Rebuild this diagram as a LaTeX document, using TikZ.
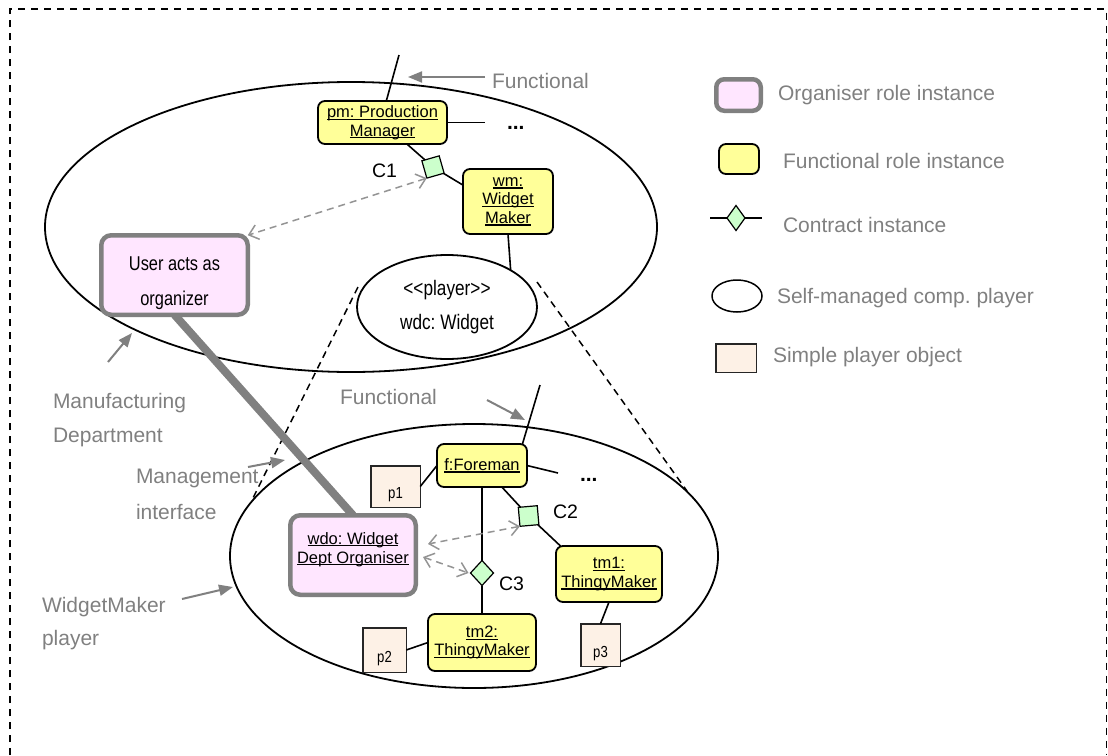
\documentclass[tikz,border=0pt]{standalone}
\usepackage{fontspec}
\setmainfont{Liberation Sans}
\newfontfamily\narrowfont[FakeStretch=0.82]{Liberation Sans}
\usetikzlibrary{arrows.meta,shapes.geometric}
\frenchspacing

\definecolor{roleyellow}{HTML}{FFFF99}
\definecolor{orgpink}{HTML}{FFE6FF}
\definecolor{orggray}{HTML}{808080}
\definecolor{contractgreen}{HTML}{CCFFCC}
\definecolor{playerpeach}{HTML}{FDF1E6}
\definecolor{labelgray}{HTML}{808080}
\definecolor{linkgray}{HTML}{949494}

\pgfdeclarelayer{players}
\pgfdeclarelayer{links}
\pgfsetlayers{players,links,main}

% underline drawn at a fixed depth below the baseline
\newcommand\uln[1]{\leavevmode\setbox0\hbox{#1}\rlap{\rule[-2.4pt]{\wd0}{1.2pt}}\box0}

\begin{document}
\begin{tikzpicture}[x=1pt, y=-1pt,
  every node/.style={inner sep=0pt, outer sep=0pt},
  rolebox/.style={draw=black, line width=1.8pt, rounded corners=7pt, fill=roleyellow,
    align=center, font=\fontsize{16.5}{18.5}\selectfont},
  orgbox/.style={draw=orggray, line width=4.5pt, rounded corners=10pt, fill=orgpink},
  contract/.style={draw=black, line width=1.2pt, fill=contractgreen},
  simpleobj/.style={draw=black!85, line width=1.5pt, fill=playerpeach,
    font=\narrowfont\fontsize{16}{18}\selectfont, text height=24pt, text depth=0pt},
  compplayer/.style={draw=black, line width=1.8pt, ellipse},
  link/.style={draw=black, line width=1.6pt},
  dlink/.style={draw=linkgray, line width=1.5pt, dash pattern=on 7pt off 5pt,
    {Straight Barb[length=9pt,width=15pt]}-{Straight Barb[length=9pt,width=15pt]}},
  zoomline/.style={draw=black, line width=1.5pt, dash pattern=on 7pt off 5pt},
  pointer/.style={draw=labelgray, line width=2pt, -{Triangle[length=14pt,width=11pt]}},
  graylabel/.style={anchor=base west, text=labelgray, font=\fontsize{21}{25}\selectfont},
  boxtext/.style={anchor=base, font=\fontsize{16.5}{18.5}\selectfont},
  narrowtext/.style={anchor=base, font=\narrowfont\fontsize{20}{24}\selectfont},
  clabel/.style={anchor=base west, font=\fontsize{19.5}{22}\selectfont},
  more/.style={anchor=base west, font=\bfseries\fontsize{21}{24}\selectfont}]

\useasboundingbox (0,0) rectangle (1108,755);

% outer frame
\draw[line width=1.8pt, dash pattern=on 7pt off 6pt] (10,755) -- (10,9) -- (1106.5,9) -- (1106.5,755);

% composite players, kept behind everything else
\begin{pgfonlayer}{players}
\node[compplayer, minimum width=612pt, minimum height=290pt] (mfg) at (351,227) {};
\node[compplayer, minimum width=488pt, minimum height=264pt] (wmp) at (474,556) {};
\node[compplayer, fill=white, minimum width=180pt, minimum height=104pt, align=center,
  font=\narrowfont\fontsize{21}{34}\selectfont] (wdc) at (447,307)
  {<\kern0pt<player>\kern0pt>\\wdc: Widget};

% zoom lines from the player to its expansion
\coordinate (zoom-l-top) at (358,287);
\coordinate (zoom-l-bot) at (252,500);
\coordinate (zoom-r-top) at (537,282);
\coordinate (zoom-r-bot) at (687,491);
\draw[zoomline] (zoom-l-top) -- (zoom-l-bot);
\draw[zoomline] (zoom-r-top) -- (zoom-r-bot);
\end{pgfonlayer}

% organiser boxes and the link between them
\node[orgbox, minimum width=146.5pt, minimum height=79.5pt] (user) at (174.5,275) {};
\node[orgbox, minimum width=125.5pt, minimum height=79.5pt] (wdo) at (353,555) {};
\begin{pgfonlayer}{links}
\draw[orggray, line width=8pt] (user.south) -- (wdo.north);
\end{pgfonlayer}
\node[narrowtext] (user-l1) at (174.5,270) {User acts as};
\node[narrowtext] (user-l2) at (174.5,305) {organizer};
\node[boxtext] (wdo-l1) at (353,544) {\uln{wdo: Widget}};
\node[boxtext] (wdo-l2) at (353,563) {\uln{Dept Organiser}};

% upper level roles
\node[rolebox, minimum width=129pt, minimum height=43pt] (pm) at (382.5,122.5)
  {\uln{pm: Production}\\\uln{Manager}};
\node[rolebox, minimum width=90pt, minimum height=65pt] (wm) at (508,201.5)
  {\uln{wm:}\\\uln{Widget}\\\uln{Maker}};
\node[contract, rectangle, minimum size=18pt, rotate=16] (c1) at (433,167) {};
\node[clabel] (c1-label) at (372,177) {C1};
\coordinate (pm-func) at (399,55);
\coordinate (pm-more) at (485,122.5);
\node[more] (pm-dots) at (507,129) {...};

\draw[link] (pm-func) -- (pm.80);
\draw[link] (pm.east) -- (pm-more);
\draw[link] (pm) -- (c1);
\draw[link] (c1) -- (wm.160);
\draw[link] (wm.south) -- (wdc.30);

% lower level roles
\node[rolebox, minimum width=90pt, minimum height=43pt] (fore) at (482,465.5) {\uln{f:Foreman}};
\node[rolebox, minimum width=106pt, minimum height=56pt] (tm1) at (609,574)
  {\uln{tm1:}\\\uln{ThingyMaker}};
\node[rolebox, minimum width=108pt, minimum height=57pt] (tm2) at (482,642.5)
  {\uln{tm2:}\\\uln{ThingyMaker}};
\node[simpleobj, minimum width=49.5pt, minimum height=41.5pt] (p1) at (395.5,486.5) {p1};
\node[simpleobj, minimum width=43.5pt, minimum height=44.5pt] (p2) at (384.5,650) {p2};
\node[simpleobj, minimum width=39.5pt, minimum height=42.5pt] (p3) at (600.5,645) {p3};
\node[contract, rectangle, minimum size=19pt, rotate=5] (c2) at (528.6,516) {};
\node[contract, diamond, minimum width=23pt, minimum height=25pt] (c3) at (482,573) {};
\node[clabel] (c2-label) at (553,518) {C2};
\node[clabel] (c3-label) at (499,590) {C3};
\coordinate (fore-func) at (540,385);
\coordinate (fore-more) at (558,473);
\node[more] (fore-dots) at (580,481) {...};

\draw[link] (fore-func) -- (fore.28);
\draw[link] (fore.east) -- (fore-more);
\draw[link] (p1.east) -- (fore.west);
\draw[link] (fore) -- (c2);
\draw[link] (c2) -- (tm1.150);
\draw[link] (fore.south) -- (c3.north);
\draw[link] (c3.south) -- (tm2.north);
\draw[link] (p2.east) -- (tm2.west);
\draw[link] (p3.north) -- (tm1.south);

% organiser links to contracts
\coordinate (wdo-in1) at (428,544);
\coordinate (wdo-in2) at (423,557);
\draw[dlink] (c1.south west) -- (user.north east);
\draw[dlink] (c2.south west) -- (wdo-in1);
\draw[dlink] (wdo-in2) -- ([xshift=-2pt]c3.west);

% gray annotations
\node[graylabel] (lbl-func-top) at (492,88) {Functional};
\node[graylabel] (lbl-mfg-1) at (53,408) {Manufacturing};
\node[graylabel] (lbl-mfg-2) at (53,442) {Department};
\node[graylabel] (lbl-func-low) at (340,404) {Functional};
\node[graylabel] (lbl-mi-1) at (136,483) {Management};
\node[graylabel] (lbl-mi-2) at (136,519) {interface};
\node[graylabel] (lbl-wmp-1) at (42,612) {WidgetMaker};
\node[graylabel] (lbl-wmp-2) at (42,645) {player};

\coordinate (ptr-func-top-a) at (485,77);   \coordinate (ptr-func-top-b) at (408,77);
\coordinate (ptr-mfg-a) at (108,362);       \coordinate (ptr-mfg-b) at (132,333);
\coordinate (ptr-func-low-a) at (487,400);  \coordinate (ptr-func-low-b) at (525,420);
\coordinate (ptr-mi-a) at (248,467);        \coordinate (ptr-mi-b) at (285,460);
\coordinate (ptr-wmp-a) at (182,599);       \coordinate (ptr-wmp-b) at (233,587);
\draw[pointer] (ptr-func-top-a) -- (ptr-func-top-b);
\draw[pointer] (ptr-mfg-a) -- (ptr-mfg-b);
\draw[pointer] (ptr-func-low-a) -- (ptr-func-low-b);
\draw[pointer] (ptr-mi-a) -- (ptr-mi-b);
\draw[pointer] (ptr-wmp-a) -- (ptr-wmp-b);

% legend
\node[orgbox, minimum width=44.5pt, minimum height=31.5pt, rounded corners=8pt] (leg-org) at (738.5,95) {};
\node[graylabel] (leg-org-text) at (778,100) {Organiser role instance};
\node[rolebox, minimum width=40pt, minimum height=30pt] (leg-role) at (739,159) {};
\node[graylabel] (leg-role-text) at (783,168) {Functional role instance};
\coordinate (leg-c-l) at (710,218);
\coordinate (leg-c-r) at (762,218);
\node[contract, diamond, minimum width=18pt, minimum height=25pt] (leg-c) at (736,218) {};
\draw[link] (leg-c-l) -- (leg-c);
\draw[link] (leg-c) -- (leg-c-r);
\node[graylabel] (leg-c-text) at (783,232) {Contract instance};
\node[compplayer, line width=1.5pt, minimum width=50pt, minimum height=32pt] (leg-e) at (737,296) {};
\node[graylabel] (leg-e-text) at (777,303) {Self-managed comp. player};
\node[simpleobj, minimum width=40.5pt, minimum height=28.5pt] (leg-p) at (736,358) {};
\node[graylabel] (leg-p-text) at (773,362) {Simple player object};

\end{tikzpicture}
\end{document}
